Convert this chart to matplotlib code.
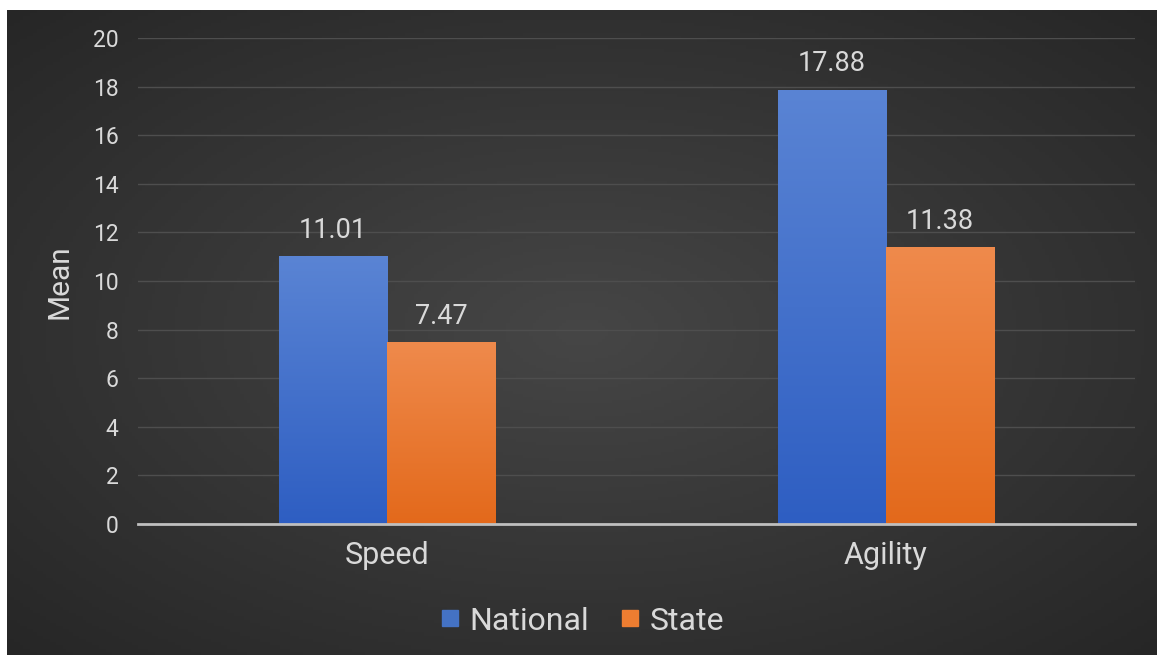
import numpy as np
import matplotlib.pyplot as plt
from matplotlib.colors import LinearSegmentedColormap

plt.rcParams['font.family'] = ['Roboto', 'DejaVu Sans']

# Dados
categorias = ['Speed', 'Agility']
national = [11.01, 17.88]
state = [7.47, 11.38]
series = ['National', 'State']
yticks = [0, 2, 4, 6, 8, 10, 12, 14, 16, 18, 20]

txt = '#d9d9d9'
W, H = 1157, 655

fig = plt.figure(figsize=(W / 100, H / 100), dpi=100)
fig.patch.set_facecolor('white')

# Fundo escuro com gradiente radial
bg = fig.add_axes([7 / W, 0, 1150 / W, 645 / H])
yy, xx = np.mgrid[0:1:200j, 0:1:350j]
r = np.sqrt(((xx - 0.5) / 0.75) ** 2 + ((yy - 0.5) / 0.75) ** 2)
bg_cmap = LinearSegmentedColormap.from_list('bg', ['#464646', '#363636', '#262626'])
bg.imshow(r, cmap=bg_cmap, aspect='auto', extent=(0, 1, 0, 1), vmin=0, vmax=0.95)
bg.set_axis_off()

ax = fig.add_axes([138 / W, 1 - 524 / H, (1135 - 138) / W, (524 - 38) / H])
ax.patch.set_alpha(0)

x = np.arange(len(categorias))
w = 0.217
cores = [('#2e5ec2', '#5a84d4'), ('#e3691b', '#ef8a4c')]

for i, (vals, (c0, c1)) in enumerate(zip([national, state], cores)):
    bars = ax.bar(x + (i - 0.5) * w, vals, w, color=c0, label=series[i], zorder=2)
    cmap = LinearSegmentedColormap.from_list('g%d' % i, [c0, c1])
    for b, v in zip(bars, vals):
        x0 = b.get_x()
        grad = np.linspace(0, 1, 256).reshape(-1, 1)
        im = ax.imshow(grad, cmap=cmap, origin='lower', aspect='auto',
                       extent=(x0, x0 + w, 0, v), zorder=3)
        im.set_clip_path(b)
        # Rótulo do valor
        ax.annotate(f'{v:.2f}', (x0 + w / 2, v), xytext=(0, 19),
                    textcoords='offset points', ha='center', va='center',
                    color=txt, fontsize=19.5)

ax.set_xlim(-0.5, 1.5)
ax.set_ylim(0, 20)
ax.set_yticks(yticks)
ax.set_xticks(x)
ax.set_xticklabels(categorias, fontsize=22, color=txt)
ax.tick_params(axis='y', labelsize=16.5, labelcolor=txt, length=0, pad=14)
ax.tick_params(axis='x', length=0, pad=12)
ax.grid(axis='y', color='#4e4e4e', linewidth=1, zorder=0)
for s in ['top', 'right', 'left']:
    ax.spines[s].set_visible(False)
ax.spines['bottom'].set_color('#bfbfbf')
ax.spines['bottom'].set_linewidth(2)
ax.spines['bottom'].set_zorder(4)

fig.text(59 / W, 1 - 282 / H, 'Mean', rotation=90, ha='center', va='center',
         color=txt, fontsize=21.5)

# Legenda com marcadores quadrados
handles = [plt.Line2D([], [], marker='s', linestyle='', markersize=12, color=c)
           for c in ['#4472c4', '#ed7d31']]
fig.legend(handles, series, loc='center', bbox_to_anchor=(582 / W, 1 - 621 / H),
           ncol=2, frameon=False, fontsize=23, labelcolor=txt,
           handlelength=0.6, handletextpad=0.3, columnspacing=1.0)

fig.savefig('out.png', dpi=100, facecolor=fig.get_facecolor())
